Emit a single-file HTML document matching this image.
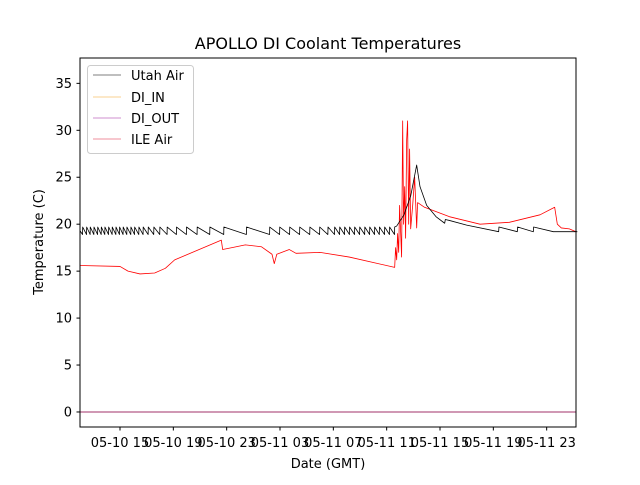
<!DOCTYPE html>
<html><head><meta charset="utf-8"><style>
body{margin:0;background:#fff}
svg{font-family:"DejaVu Sans","Liberation Sans",sans-serif}
</style></head><body>
<svg id="c" width="640" height="480" viewBox="0 0 640 480">
<rect width="640" height="480" fill="#fff"/>
<text x="328" y="49" font-size="16" text-anchor="middle">APOLLO DI Coolant Temperatures</text>
<text x="328" y="468" font-size="13" text-anchor="middle">Date (GMT)</text>
<text transform="translate(43,242) rotate(-90)" font-size="13" text-anchor="middle">Temperature (C)</text>
<g id="plot"></g>
<rect x="80" y="58" width="496" height="369" fill="none" stroke="#000" stroke-width="1"/>
<g>
<rect x="87.5" y="65.5" width="106" height="88" rx="3" fill="#fff" fill-opacity="0.8" stroke="#ccc"/>
<g><line x1="93" x2="121" y1="75" y2="75" stroke="#000" stroke-width="0.6"/><text x="131" y="80" font-size="13">Utah Air</text></g>
<g><line x1="93" x2="121" y1="97" y2="97" stroke="#f5a623" stroke-width="0.6"/><text x="131" y="102" font-size="13">DI_IN</text></g>
<g><line x1="93" x2="121" y1="118" y2="118" stroke="#a020a0" stroke-width="0.6"/><text x="131" y="123" font-size="13">DI_OUT</text></g>
<g><line x1="93" x2="121" y1="139" y2="139" stroke="#e0203a" stroke-width="0.6"/><text x="131" y="144" font-size="13">ILE Air</text></g>
</g>
</svg>
<script>
const yTicks=[0,5,10,15,20,25,30,35];
const xTickHours=[15,19,23,27,31,35,39,43,47];
const xTickLabels=["05-10 15","05-10 19","05-10 23","05-11 03","05-11 07","05-11 11","05-11 15","05-11 19","05-11 23"];
const utahPeakT=[12.2,12.5,12.77,13.05,13.33,13.6,13.87,14.15,14.42,14.7,14.97,15.24,15.52,15.82,16.1,16.42,16.74,17.12,17.54,17.99,18.54,19.24,19.99,20.79,21.74,22.79,24.49,26.23,26.98,27.73,28.48,29.24,29.98,30.6,31.1,31.48,31.85,32.22,32.6,32.98,33.36,33.73,34.1,34.46,34.85,35.22,35.6];
const utahPeakV=19.7, utahTroughV=18.9;
const utahTailT=[35.75,36.3,36.8,37.25,37.5,38.0,38.7,39.35,39.4,39.7,41,43.4,43.42,44.8,44.82,46.0,46.02,47.5,49.3];
const utahTailV=[19.8,21,23,26.3,24,22,20.8,20.1,20.5,20.4,19.9,19.2,19.7,19.2,19.7,19.2,19.7,19.2,19.2];
const ileT=[12,15,15.6,16.5,17.6,18.4,19.1,22.6,22.7,23.4,24.4,25.6,26.4,26.57,26.76,27.7,28.2,30,32.2,35.6,35.67,35.75,35.82,35.9,35.97,36.12,36.2,36.27,36.35,36.42,36.5,36.57,36.65,36.72,36.8,36.95,37.1,37.25,37.32,37.84,39.7,42,44.2,46.5,47.6,47.8,48.1,48.7,49.2];
const ileV=[15.6,15.5,15.0,14.7,14.8,15.3,16.2,18.3,17.3,17.5,17.8,17.6,16.8,15.8,16.8,17.3,16.9,17.0,16.5,15.4,17.5,16.2,19,17,22,16.5,31,20,24,18.5,29,31,20,28,19.5,22,25,19.6,22.3,21.8,20.8,20.0,20.2,21.0,21.8,20.0,19.6,19.5,19.2];
const diT=[12,49.2], diV=[0,0];

const X0=80,X1=576,Y0=427,Y1=58,tMin=12,tMax=49.2,vMin=-1.6,vMax=37.7;
const xs=t=>X0+(t-tMin)/(tMax-tMin)*(X1-X0);
const ys=v=>Y0-(v-vMin)/(vMax-vMin)*(Y0-Y1);
const NS="http://www.w3.org/2000/svg";
const svg=document.getElementById('c');
const plot=document.getElementById('plot');
function mk(tag,attrs,parent){const e=document.createElementNS(NS,tag);for(const k in attrs)e.setAttribute(k,attrs[k]);parent.appendChild(e);return e;}
yTicks.forEach(v=>{
  const g=mk('g',{},svg);
  
  
  mk('line',{x1:76.5,x2:80,y1:ys(v),y2:ys(v),stroke:'#000'},g);
  const t=mk('text',{x:72,y:ys(v)+4.5,'font-size':13,'text-anchor':'end'},g);t.textContent=v;
});
xTickHours.forEach((h,i)=>{
  const g=mk('g',{},svg);
  
  
  mk('line',{x1:xs(h),x2:xs(h),y1:427,y2:430.5,stroke:'#000'},g);
  const t=mk('text',{x:xs(h),y:447,'font-size':13,'text-anchor':'middle'},g);t.textContent=xTickLabels[i];
});
function line(T,V,color,name,w){
  const d=T.map((t,i)=>(i?'L':'M')+xs(t).toFixed(2)+','+ys(V[i]).toFixed(2)).join('');
  const p=mk('path',{d:d,fill:'none',stroke:color,'stroke-width':w||0.8,'stroke-linejoin':'round'},plot);
  
  
}
const uT=[tMin],uV=[19.3];
utahPeakT.forEach(t=>{uT.push(t-0.01);uV.push(utahTroughV);uT.push(t);uV.push(utahPeakV);});
utahTailT.forEach((t,i)=>{uT.push(t);uV.push(utahTailV[i]);});
line(diT,diV,'#f5a623','di-in-line',1);
line(diT,diV,'#a0306a','di-out-line',1);
line(ileT,ileV,'#ff0000','ile-air-line',0.8);
line(uT,uV,'#000','utah-air-line',0.8);
</script>
</body></html>
